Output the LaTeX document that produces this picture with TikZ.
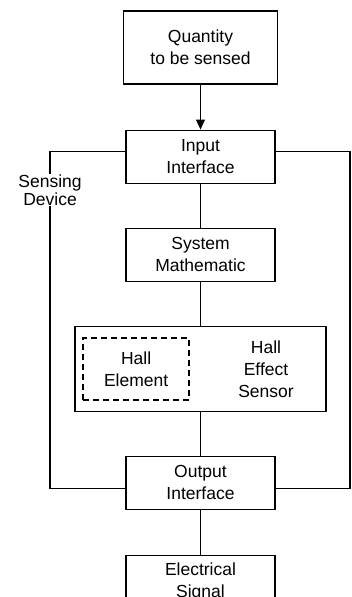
\documentclass[tikz,border=0pt]{standalone}
\usepackage{fontspec}
\setmainfont{Liberation Sans}
\usetikzlibrary{arrows.meta,calc,positioning}
\tikzset{
myblock/.style={
  rectangle,
  line width=1.1pt,
  minimum width=149pt,
  minimum height=53pt,
  inner sep=0pt,
  align=center,
  draw=black,
  font=\fontsize{17.5}{22}\selectfont,
  }
}
\tikzset{
mydash/.style={
  myblock,
  line width=1.4pt,
  dash pattern=on 6pt off 4pt,
  }
}
\tikzset{
myline/.style={
  line width=1.1pt,
  }
}
\tikzset{
myarrow/.style={
  line width=1.1pt,
  -{Triangle[length=10pt,width=9pt]}
  }
}

\begin{document}
\begin{tikzpicture}[x=1pt,y=-1pt,node distance=44pt]
    \useasboundingbox (0,0) rectangle (351,597);
    \clip (0,0) rectangle (351,597);

    % main chain
    \node[myblock, minimum width=154pt, minimum height=73pt] (qty) at (200.5,47.5) {Quantity\\to be sensed};
    \node[myblock, below=45pt of qty] (inp) {Input\\Interface};
    \node[myblock, below=of inp] (sys) {System\\Mathematic};
    \node[myblock, below=of sys, minimum width=251pt, minimum height=85pt] (hall) {};
    \node[myblock, below=of hall] (out) {Output\\Interface};
    \node[myblock, below=45pt of out] (sig) {Electrical\\Signal};

    % hall sensor part
    \node[mydash, minimum width=106pt, minimum height=62pt, right=8pt of hall.west, anchor=west] (elem) {Hall\\Element};
    \node[align=center, font=\fontsize{17.5}{22}\selectfont] (hes) at ($(hall.center)+(65.5,0)$) {Hall\\Effect\\Sensor};

    % chain edges
    \draw[myarrow] (qty) -- (inp);
    \draw[myline] (inp) -- (sys);
    \draw[myline] (sys) -- (hall);
    \draw[myline] (hall) -- (out);
    \draw[myline] (out) -- (sig);

    % sensing device loop
    \coordinate (lt) at ($(inp.north west)!0.4!(inp.south west)$);
    \coordinate (rt) at ($(inp.north east)!0.4!(inp.south east)$);
    \coordinate (lb) at ($(out.north west)!0.6!(out.south west)$);
    \coordinate (rb) at ($(out.north east)!0.6!(out.south east)$);
    \coordinate (lside) at (50,0);
    \coordinate (rside) at (350,0);
    \draw[myline] (lt) -- (lt -| lside) -- (lb -| lside) -- (lb);
    \draw[myline] (rt) -- (rt -| rside) -- (rb -| rside) -- (rb);
    \node[fill=white, inner sep=1pt, align=center, font=\fontsize{17.5}{18}\selectfont] (sense) at (50,190) {Sensing\\Device};
\end{tikzpicture}
\end{document}
